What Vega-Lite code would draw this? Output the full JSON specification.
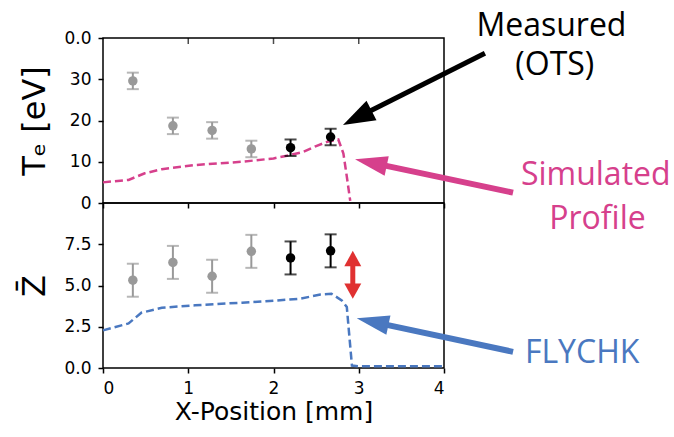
{
  "$schema": "https://vega.github.io/schema/vega-lite/v6.json",
  "padding": {"left": 18, "top": 8, "right": 0, "bottom": 0},
  "spacing": 0,
  "bounds": "flush",
  "datasets": {
    "ots": [
      {"x": 0.35, "te": 29.6, "te_lo": 27.6, "te_hi": 31.6, "z": 5.32, "z_lo": 4.32, "z_hi": 6.32, "kind": "earlier"},
      {"x": 0.82, "te": 18.7, "te_lo": 16.7, "te_hi": 20.7, "z": 6.4, "z_lo": 5.4, "z_hi": 7.4, "kind": "earlier"},
      {"x": 1.28, "te": 17.6, "te_lo": 15.6, "te_hi": 19.6, "z": 5.56, "z_lo": 4.56, "z_hi": 6.56, "kind": "earlier"},
      {"x": 1.74, "te": 13.1, "te_lo": 11.1, "te_hi": 15.1, "z": 7.07, "z_lo": 6.07, "z_hi": 8.07, "kind": "earlier"},
      {"x": 2.2, "te": 13.4, "te_lo": 11.4, "te_hi": 15.4, "z": 6.67, "z_lo": 5.67, "z_hi": 7.67, "kind": "OTS"},
      {"x": 2.67, "te": 16.0, "te_lo": 14.0, "te_hi": 18.0, "z": 7.1, "z_lo": 6.1, "z_hi": 8.1, "kind": "OTS"}
    ],
    "simTe": [
      {"x": 0.0, "te": 5.0}, {"x": 0.3, "te": 5.6}, {"x": 0.49, "te": 7.2}, {"x": 0.69, "te": 8.2},
      {"x": 1.08, "te": 9.2}, {"x": 1.63, "te": 10.0}, {"x": 2.0, "te": 10.8}, {"x": 2.19, "te": 11.6},
      {"x": 2.35, "te": 12.4}, {"x": 2.5, "te": 13.8}, {"x": 2.64, "te": 14.9}, {"x": 2.76, "te": 15.4},
      {"x": 2.82, "te": 12.0}, {"x": 2.86, "te": 6.4}, {"x": 2.9, "te": 0.5}
    ],
    "simZ": [
      {"x": 0.0, "z": 2.28}, {"x": 0.3, "z": 2.7}, {"x": 0.45, "z": 3.35}, {"x": 0.69, "z": 3.65},
      {"x": 1.08, "z": 3.8}, {"x": 1.63, "z": 3.96}, {"x": 2.0, "z": 4.08}, {"x": 2.31, "z": 4.2},
      {"x": 2.55, "z": 4.45}, {"x": 2.68, "z": 4.5}, {"x": 2.8, "z": 4.1}, {"x": 2.86, "z": 3.7},
      {"x": 2.88, "z": 2.5}, {"x": 2.92, "z": 0.15}, {"x": 3.0, "z": 0.1}, {"x": 4.0, "z": 0.1}
    ],
    "topTicks": [{"x": 1}, {"x": 2}, {"x": 3}]
  },
  "config": {
    "font": "DejaVu Sans",
    "view": {"stroke": "black", "strokeWidth": 1.5},
    "axis": {
      "domain": false, "grid": false, "tickColor": "black", "tickWidth": 1.5, "tickSize": 5,
      "labelColor": "black", "labelFont": "DejaVu Sans", "labelFontSize": 17, "labelPadding": 7,
      "titleFont": "DejaVu Sans", "titleFontWeight": "normal", "titleColor": "black"
    }
  },
  "vconcat": [
    {
      "width": 341, "height": 165,
      "layer": [
        {
          "data": {"name": "simTe"},
          "mark": {"type": "line", "color": "#d6408c", "strokeWidth": 2.5, "strokeDash": [8, 4]},
          "encoding": {
            "x": {"field": "x", "type": "quantitative", "scale": {"domain": [0, 4]},
                  "axis": {"values": [0, 1, 2, 3, 4], "labels": false, "title": null}},
            "y": {"field": "te", "type": "quantitative", "scale": {"domain": [0, 40]},
                  "axis": {"values": [0, 10, 20, 30, 40], "labelExpr": "datum.value == 40 ? '0.0' : datum.label",
                           "title": "Tₑ [eV]", "titleFontSize": 32, "titlePadding": 12}}
          }
        },
        {
          "data": {"name": "topTicks"},
          "mark": {"type": "tick", "orient": "vertical", "size": 6, "thickness": 1.5, "color": "black", "yOffset": 3},
          "encoding": {
            "x": {"field": "x", "type": "quantitative"},
            "y": {"datum": 40, "type": "quantitative"}
          }
        },
        {
          "data": {"name": "ots"},
          "mark": {"type": "rule", "strokeWidth": 2},
          "encoding": {
            "x": {"field": "x", "type": "quantitative"},
            "y": {"field": "te_lo", "type": "quantitative"},
            "y2": {"field": "te_hi"},
            "color": {"field": "kind", "type": "nominal", "scale": {"domain": ["earlier", "OTS"], "range": ["#999999", "#000000"]}, "legend": null}
          }
        },
        {
          "data": {"name": "ots"},
          "mark": {"type": "tick", "orient": "horizontal", "size": 12, "thickness": 2},
          "encoding": {
            "x": {"field": "x", "type": "quantitative"},
            "y": {"field": "te_lo", "type": "quantitative"},
            "color": {"field": "kind", "type": "nominal", "legend": null}
          }
        },
        {
          "data": {"name": "ots"},
          "mark": {"type": "tick", "orient": "horizontal", "size": 12, "thickness": 2},
          "encoding": {
            "x": {"field": "x", "type": "quantitative"},
            "y": {"field": "te_hi", "type": "quantitative"},
            "color": {"field": "kind", "type": "nominal", "legend": null}
          }
        },
        {
          "data": {"name": "ots"},
          "mark": {"type": "point", "filled": true, "size": 90, "opacity": 1},
          "encoding": {
            "x": {"field": "x", "type": "quantitative"},
            "y": {"field": "te", "type": "quantitative"},
            "color": {"field": "kind", "type": "nominal", "legend": null}
          }
        },
        {
          "data": {"values": [{"x": 4.48, "y": 36.3, "x2": 2.97, "y2": 20.6}]},
          "mark": {"type": "rule", "color": "black", "strokeWidth": 5},
          "encoding": {
            "x": {"field": "x", "type": "quantitative"},
            "y": {"field": "y", "type": "quantitative"},
            "x2": {"field": "x2"}, "y2": {"field": "y2"}
          }
        },
        {
          "data": {"values": [{"x": 2.815, "y": 18.9}]},
          "mark": {"type": "point", "shape": "M0,0L0.55,1.6L-0.55,1.6Z", "filled": true, "opacity": 1, "color": "black", "size": 1600, "angle": 243},
          "encoding": {
            "x": {"field": "x", "type": "quantitative"},
            "y": {"field": "y", "type": "quantitative"}
          }
        },
        {
          "data": {"values": [{"x": 4.81, "y": 2.5, "x2": 3.13, "y2": 9.84}]},
          "mark": {"type": "rule", "color": "#d6408c", "strokeWidth": 6},
          "encoding": {
            "x": {"field": "x", "type": "quantitative"},
            "y": {"field": "y", "type": "quantitative"},
            "x2": {"field": "x2"}, "y2": {"field": "y2"}
          }
        },
        {
          "data": {"values": [{"x": 2.956, "y": 10.6}]},
          "mark": {"type": "point", "shape": "M0,0L0.55,1.8L-0.55,1.8Z", "filled": true, "opacity": 1, "color": "#d6408c", "size": 1296, "angle": 282},
          "encoding": {
            "x": {"field": "x", "type": "quantitative"},
            "y": {"field": "y", "type": "quantitative"}
          }
        },
        {
          "data": {"values": [{"x": 5.26, "y": 43.0, "text": "Measured"}, {"x": 5.3, "y": 33.5, "text": "(OTS)"}]},
          "mark": {"type": "text", "font": "Open Sans", "fontSize": 32, "color": "black", "baseline": "middle", "align": "center"},
          "encoding": {
            "x": {"field": "x", "type": "quantitative"},
            "y": {"field": "y", "type": "quantitative"},
            "text": {"field": "text"}
          }
        },
        {
          "data": {"values": [{"x": 5.78, "y": 6.8, "text": "Simulated"}]},
          "mark": {"type": "text", "font": "Open Sans", "fontSize": 32, "color": "#d6408c", "baseline": "middle", "align": "center"},
          "encoding": {
            "x": {"field": "x", "type": "quantitative"},
            "y": {"field": "y", "type": "quantitative"},
            "text": {"field": "text"}
          }
        }
      ]
    },
    {
      "width": 341, "height": 165,
      "layer": [
        {
          "data": {"name": "simZ"},
          "mark": {"type": "line", "color": "#4a78c0", "strokeWidth": 2.5, "strokeDash": [8, 4]},
          "encoding": {
            "x": {"field": "x", "type": "quantitative", "scale": {"domain": [0, 4]},
                  "axis": {"values": [0, 1, 2, 3, 4], "format": "d", "title": "X-Position [mm]", "titleFontSize": 25, "titlePadding": 3}},
            "y": {"field": "z", "type": "quantitative", "scale": {"domain": [0, 10]},
                  "axis": {"values": [0, 2.5, 5, 7.5], "format": ".1f", "title": "Z̄", "titleFontSize": 32, "titlePadding": 12}}
          }
        },
        {
          "data": {"name": "ots"},
          "mark": {"type": "rule", "strokeWidth": 2},
          "encoding": {
            "x": {"field": "x", "type": "quantitative"},
            "y": {"field": "z_lo", "type": "quantitative"},
            "y2": {"field": "z_hi"},
            "color": {"field": "kind", "type": "nominal", "scale": {"domain": ["earlier", "OTS"], "range": ["#999999", "#000000"]}, "legend": null}
          }
        },
        {
          "data": {"name": "ots"},
          "mark": {"type": "tick", "orient": "horizontal", "size": 12, "thickness": 2},
          "encoding": {
            "x": {"field": "x", "type": "quantitative"},
            "y": {"field": "z_lo", "type": "quantitative"},
            "color": {"field": "kind", "type": "nominal", "legend": null}
          }
        },
        {
          "data": {"name": "ots"},
          "mark": {"type": "tick", "orient": "horizontal", "size": 12, "thickness": 2},
          "encoding": {
            "x": {"field": "x", "type": "quantitative"},
            "y": {"field": "z_hi", "type": "quantitative"},
            "color": {"field": "kind", "type": "nominal", "legend": null}
          }
        },
        {
          "data": {"name": "ots"},
          "mark": {"type": "point", "filled": true, "size": 90, "opacity": 1},
          "encoding": {
            "x": {"field": "x", "type": "quantitative"},
            "y": {"field": "z", "type": "quantitative"},
            "color": {"field": "kind", "type": "nominal", "legend": null}
          }
        },
        {
          "data": {"values": [{"x": 2.93, "y": 6.6, "y2": 4.7}]},
          "mark": {"type": "rule", "color": "#e03131", "strokeWidth": 5},
          "encoding": {
            "x": {"field": "x", "type": "quantitative"},
            "y": {"field": "y", "type": "quantitative"},
            "y2": {"field": "y2"}
          }
        },
        {
          "data": {"values": [{"x": 2.93, "y": 7.1}]},
          "mark": {"type": "point", "shape": "M0,0L0.5,0.9L-0.5,0.9Z", "filled": true, "opacity": 1, "color": "#e03131", "size": 1156, "angle": 0},
          "encoding": {
            "x": {"field": "x", "type": "quantitative"},
            "y": {"field": "y", "type": "quantitative"}
          }
        },
        {
          "data": {"values": [{"x": 2.93, "y": 4.2}]},
          "mark": {"type": "point", "shape": "M0,0L0.5,0.9L-0.5,0.9Z", "filled": true, "opacity": 1, "color": "#e03131", "size": 1156, "angle": 180},
          "encoding": {
            "x": {"field": "x", "type": "quantitative"},
            "y": {"field": "y", "type": "quantitative"}
          }
        },
        {
          "data": {"values": [{"x": 4.81, "y": 0.98, "x2": 3.15, "y2": 2.81}]},
          "mark": {"type": "rule", "color": "#4a78c0", "strokeWidth": 6},
          "encoding": {
            "x": {"field": "x", "type": "quantitative"},
            "y": {"field": "y", "type": "quantitative"},
            "x2": {"field": "x2"}, "y2": {"field": "y2"}
          }
        },
        {
          "data": {"values": [{"x": 2.976, "y": 3.01}]},
          "mark": {"type": "point", "shape": "M0,0L0.55,1.8L-0.55,1.8Z", "filled": true, "opacity": 1, "color": "#4a78c0", "size": 1296, "angle": 282},
          "encoding": {
            "x": {"field": "x", "type": "quantitative"},
            "y": {"field": "y", "type": "quantitative"}
          }
        },
        {
          "data": {"values": [{"x": 5.8, "y": 9.04, "text": "Profile"}]},
          "mark": {"type": "text", "font": "Open Sans", "fontSize": 32, "color": "#d6408c", "baseline": "middle", "align": "center"},
          "encoding": {
            "x": {"field": "x", "type": "quantitative"},
            "y": {"field": "y", "type": "quantitative"},
            "text": {"field": "text"}
          }
        },
        {
          "data": {"values": [{"x": 5.62, "y": 0.9, "text": "FLYCHK"}]},
          "mark": {"type": "text", "font": "Open Sans", "fontSize": 32, "color": "#4a78c0", "baseline": "middle", "align": "center"},
          "encoding": {
            "x": {"field": "x", "type": "quantitative"},
            "y": {"field": "y", "type": "quantitative"},
            "text": {"field": "text"}
          }
        }
      ]
    }
  ]
}
